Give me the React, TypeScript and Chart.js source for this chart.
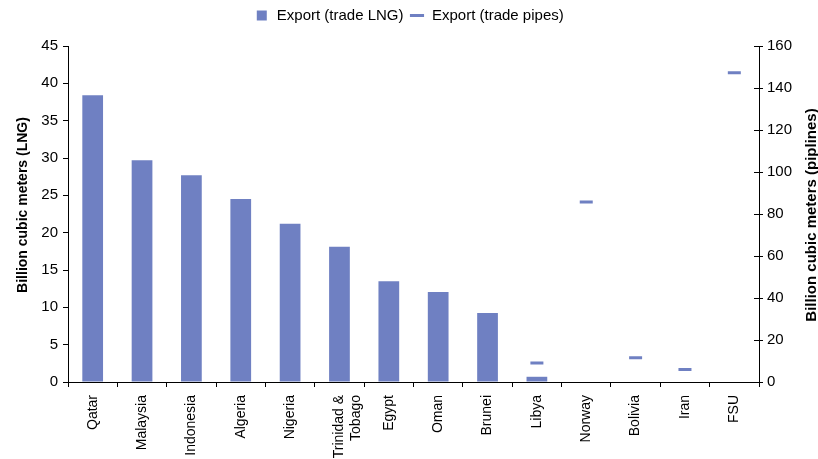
import React, { useEffect, useRef } from "react";
import { Chart, registerables } from "chart.js";

Chart.register(...registerables);

const categories: (string | string[])[] = [
  "Qatar", "Malaysia", "Indonesia", "Algeria", "Nigeria", ["Trinidad &", "Tobago"],
  "Egypt", "Oman", "Brunei", "Libya", "Norway", "Bolivia", "Iran", "FSU",
];
const lngExport: (number | null)[] = [38.4, 29.7, 27.7, 24.5, 21.2, 18.1, 13.5, 12.05, 9.25, 0.7, 0, null, null, null];
const pipeExport: (number | null)[] = [null, null, null, null, null, null, null, null, null, 9, 85.7, 11.6, 5.9, 147.3];
const leftTicks = { min: 0, max: 45, step: 5 };
const rightTicks = { min: 0, max: 160, step: 20 };
const leftTitle = "Billion cubic meters (LNG)";
const rightTitle = "Billion cubic meters (piplines)";

const BAR = "#6f80c2";
const FONT = "'Liberation Sans', Arial, sans-serif";

export default function App() {
  const ref = useRef<HTMLCanvasElement | null>(null);
  useEffect(() => {
    document.body.style.margin = "0";
    const canvas = ref.current;
    if (!canvas) return;
    const extras = {
      id: "extras",
      beforeInit(chart: any) {
        const lg = chart.legend;
        if (lg) {
          const orig = lg.fit;
          lg.fit = function () {
            orig.call(this);
            this.height += 13;
          };
        }
      },
      afterDraw(chart: any) {
        const ctx = chart.ctx;
        const s = chart.scales.y2;
        ctx.save();
        ctx.strokeStyle = "#000";
        ctx.lineWidth = 1;
        s.ticks.forEach((_t: any, i: number) => {
          const y = Math.round(s.getPixelForTick(i)) + 0.5;
          ctx.beginPath();
          ctx.moveTo(s.left - 5, y);
          ctx.lineTo(s.left, y);
          ctx.stroke();
        });
        ctx.restore();
        ctx.save();
        ctx.fillStyle = "#000";
        ctx.textAlign = "center";
        ctx.textBaseline = "middle";
        ctx.translate(23, 205);
        ctx.rotate(-Math.PI / 2);
        ctx.font = `bold 14px ${FONT}`;
        ctx.fillText(leftTitle, 0, 0);
        ctx.restore();
        ctx.save();
        ctx.fillStyle = "#000";
        ctx.textAlign = "center";
        ctx.textBaseline = "middle";
        ctx.translate(812, 215);
        ctx.rotate(-Math.PI / 2);
        ctx.font = `bold 15px ${FONT}`;
        ctx.fillText(rightTitle, 0, 0);
        ctx.restore();
      },
    };
    const chart = new Chart(canvas, {
      type: "bar",
      data: {
        labels: categories as any,
        datasets: [
          {
            type: "bar",
            label: "Export (trade LNG)",
            data: lngExport,
            backgroundColor: BAR,
            yAxisID: "y",
            barPercentage: 0.42,
            categoryPercentage: 1,
          },
          {
            type: "line",
            label: "Export (trade pipes)",
            data: pipeExport,
            yAxisID: "y2",
            showLine: false,
            pointStyle: "line",
            pointRadius: 6.5,
            pointBorderWidth: 3,
            borderColor: BAR,
            backgroundColor: BAR,
          } as any,
        ],
      },
      options: {
        animation: false,
        responsive: false,
        layout: { padding: { top: 2, left: 0, right: 0, bottom: 0 } },
        plugins: {
          tooltip: { enabled: false },
          legend: {
            position: "top",
            labels: {
              usePointStyle: true,
              boxHeight: 10,
              padding: 6,
              color: "#000",
              font: { family: FONT, size: 15 },
              generateLabels: () => [
                { text: "Export (trade LNG)", fillStyle: BAR, strokeStyle: BAR, lineWidth: 0, pointStyle: "rect", datasetIndex: 0, hidden: false } as any,
                { text: "Export (trade pipes)", fillStyle: BAR, strokeStyle: BAR, lineWidth: 3, pointStyle: "line", datasetIndex: 1, hidden: false } as any,
              ],
            },
          },
        },
        scales: {
          x: {
            offset: true,
            grid: { offset: true, drawOnChartArea: false, drawTicks: true, tickLength: 5, color: "#000" },
            border: { display: true, color: "#000" },
            ticks: {
              minRotation: 90,
              maxRotation: 90,
              autoSkip: false,
              padding: 8,
              color: "#000",
              font: { family: FONT, size: 14 },
            },
            afterFit: (s: any) => { s.height = 77; },
          },
          y: {
            position: "left",
            min: leftTicks.min,
            max: leftTicks.max,
            grid: { drawOnChartArea: false, drawTicks: true, tickLength: 5, color: "#000" },
            border: { display: true, color: "#000" },
            ticks: { stepSize: leftTicks.step, padding: 5, color: "#000", font: { family: FONT, size: 15 } },
            afterFit: (s: any) => { s.width = 68; },
          },
          y2: {
            position: "right",
            min: rightTicks.min,
            max: rightTicks.max,
            grid: { drawOnChartArea: false, drawTicks: true, tickLength: 4, color: "#000" },
            border: { display: true, color: "#000" },
            ticks: { stepSize: rightTicks.step, padding: 4, color: "#000", font: { family: FONT, size: 15 } },
            afterFit: (s: any) => { s.width = 59; },
          },
        },
      },
      plugins: [extras],
    });
    return () => chart.destroy();
  }, []);
  return (
    <div style={{ width: 818, height: 459 }}>
      <canvas ref={ref} width={818} height={459} style={{ display: "block" }} />
    </div>
  );
}
